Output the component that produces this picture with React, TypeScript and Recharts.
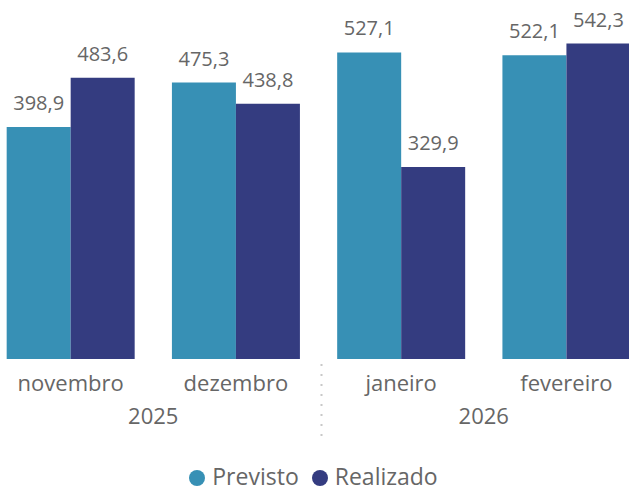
import React from 'react';
import { BarChart, Bar, XAxis, YAxis, LabelList, Legend } from 'recharts';

const FONT = "'Segoe UI', 'Open Sans', sans-serif";
const TEXT = '#666666';

const months = ['novembro', 'dezembro', 'janeiro', 'fevereiro'];
const years = ['2025', '2025', '2026', '2026'];
const previsto = [398.9, 475.3, 527.1, 522.1];
const realizado = [483.6, 438.8, 329.9, 542.3];

const COLORS = { previsto: '#3790B5', realizado: '#343C80' };

const data = months.map((m, i) => ({
  month: m,
  year: years[i],
  previsto: previsto[i],
  realizado: realizado[i],
}));

const fmt = (v: any) => Number(v).toFixed(1).replace('.', ',');

const MonthTick = (props: any) => {
  const { x, y, payload } = props;
  return (
    <text x={x} y={y} dy={32} textAnchor="middle" fill={TEXT} fontSize={22} fontFamily={FONT}>
      {payload.value}
    </text>
  );
};

const YearTick = (props: any) => {
  const { x, y, payload, index } = props;
  const half = payload.offset || 0;
  return (
    <g>
      {index > 0 && (
        <line
          x1={x - half + 3}
          x2={x - half + 3}
          y1={y - 29}
          y2={y + 45}
          stroke="#c8c8c8"
          strokeWidth={2}
          strokeDasharray="2 8"
        />
      )}
      <text x={x} y={y} dy={31} textAnchor="middle" fill={TEXT} fontSize={22} fontFamily={FONT}>
        {payload.value}
      </text>
    </g>
  );
};

const LegendContent = (props: any) => {
  const { payload } = props;
  return (
    <div style={{ height: 66, position: 'relative', fontFamily: FONT }}>
      <div
        style={{
          position: 'absolute',
          top: 37,
          left: 0,
          right: 0,
          height: 24,
          display: 'flex',
          justifyContent: 'center',
          alignItems: 'center',
          paddingRight: 10,
        }}
      >
        {(payload || []).map((p: any, i: number) => (
          <div key={i} style={{ display: 'flex', alignItems: 'center', marginLeft: i > 0 ? 13 : 0 }}>
            <span
              style={{
                width: 16,
                height: 16,
                borderRadius: 8,
                background: p.color,
                display: 'inline-block',
                marginRight: 7,
                position: 'relative',
                top: 2,
              }}
            />
            <span style={{ color: TEXT, fontSize: 23, lineHeight: '24px', whiteSpace: 'nowrap' }}>{p.value}</span>
          </div>
        ))}
      </div>
    </div>
  );
};

export default function App() {
  return (
    <div style={{ position: 'absolute', left: 0, top: 0, width: 629, height: 493, overflow: 'hidden', background: '#fff' }}>
      <div style={{ position: 'absolute', left: -12, top: 0 }}>
        <BarChart
          width={661}
          height={493}
          data={data}
          margin={{ top: 10, right: 0, left: 0, bottom: 0 }}
          barCategoryGap="11.3%"
          barGap={0}
        >
          <XAxis
            dataKey="month"
            height={34}
            axisLine={false}
            tickLine={false}
            tickSize={0}
            tickMargin={0}
            interval={0}
            tick={<MonthTick />}
          />
          <XAxis
            xAxisId="year"
            dataKey="year"
            allowDuplicatedCategory={false}
            height={34}
            axisLine={false}
            tickLine={false}
            tickSize={0}
            tickMargin={0}
            interval={0}
            tick={<YearTick />}
          />
          <YAxis hide domain={[0, 600]} />
          <Legend verticalAlign="bottom" content={<LegendContent />} />
          <Bar dataKey="previsto" name="Previsto" fill={COLORS.previsto} isAnimationActive={false}>
            <LabelList
              dataKey="previsto"
              position="top"
              offset={17}
              formatter={fmt}
              fill={TEXT}
              fontSize={20}
              fontFamily={FONT}
            />
          </Bar>
          <Bar dataKey="realizado" name="Realizado" fill={COLORS.realizado} isAnimationActive={false}>
            <LabelList
              dataKey="realizado"
              position="top"
              offset={17}
              formatter={fmt}
              fill={TEXT}
              fontSize={20}
              fontFamily={FONT}
            />
          </Bar>
        </BarChart>
      </div>
    </div>
  );
}
